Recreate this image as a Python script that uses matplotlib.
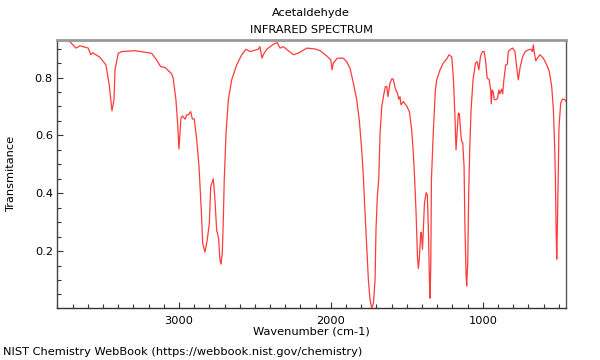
import matplotlib
matplotlib.use("Agg")
import matplotlib.pyplot as plt
from matplotlib.ticker import MultipleLocator

wavenumber = [3803, 3729, 3678, 3652, 3597, 3581, 3568, 3520, 3481, 3459, 3441, 3428, 3421, 3400,
              3377, 3290, 3180, 3147, 3121, 3092, 3048, 3038, 3020, 3009, 3000, 2993, 2987, 2976,
              2960, 2949, 2938, 2923, 2912, 2899, 2883, 2868, 2851, 2844, 2829, 2814, 2800, 2791,
              2774, 2763, 2752, 2739, 2730, 2723, 2715, 2708, 2702, 2690, 2675, 2653, 2620, 2587,
              2559, 2532, 2478, 2467, 2453, 2445, 2422, 2379, 2353, 2335, 2313, 2247, 2208, 2159,
              2104, 2071, 2027, 2000, 1992, 1984, 1958, 1918, 1896, 1874, 1852, 1830, 1813, 1797,
              1786, 1775, 1764, 1753, 1742, 1731, 1720, 1709, 1703, 1694, 1685, 1676, 1665, 1650,
              1641, 1632, 1624, 1611, 1597, 1589, 1576, 1562, 1553, 1545, 1538, 1523, 1501, 1483,
              1468, 1457, 1448, 1439, 1430, 1424, 1417, 1408, 1404, 1397, 1391, 1384, 1373, 1365,
              1358, 1351, 1347, 1342, 1338, 1326, 1312, 1303, 1281, 1260, 1238, 1222, 1204, 1194,
              1183, 1176, 1167, 1161, 1154, 1145, 1139, 1132, 1123, 1117, 1110, 1106, 1099, 1093,
              1086, 1077, 1064, 1048, 1037, 1026, 1015, 1002, 991, 982, 971, 958, 948, 944, 938,
              931, 925, 914, 903, 894, 887, 876, 869, 861, 849, 838, 832, 817, 803, 788, 777, 766,
              755, 737, 720, 700, 682, 673, 667, 660, 651, 641, 623, 601, 579, 562, 546, 535, 526,
              522, 517, 513, 509, 504, 498, 487, 476, 463, 450]
transmittance = [0.926, 0.930, 0.902, 0.910, 0.902, 0.879, 0.886, 0.870, 0.844, 0.775, 0.685, 0.723,
                 0.827, 0.884, 0.890, 0.893, 0.884, 0.861, 0.838, 0.835, 0.813, 0.798, 0.723, 0.642,
                 0.553, 0.609, 0.660, 0.667, 0.656, 0.671, 0.671, 0.682, 0.657, 0.657, 0.584, 0.492,
                 0.319, 0.227, 0.196, 0.238, 0.296, 0.423, 0.450, 0.377, 0.273, 0.244, 0.169, 0.155,
                 0.192, 0.308, 0.446, 0.608, 0.723, 0.792, 0.844, 0.879, 0.898, 0.890, 0.898, 0.907,
                 0.867, 0.879, 0.898, 0.915, 0.921, 0.902, 0.907, 0.879, 0.886, 0.902, 0.899, 0.893,
                 0.875, 0.861, 0.827, 0.850, 0.867, 0.867, 0.855, 0.833, 0.781, 0.723, 0.654, 0.550,
                 0.457, 0.331, 0.215, 0.100, 0.031, 0.002, 0.019, 0.100, 0.273, 0.388, 0.446, 0.608,
                 0.700, 0.746, 0.769, 0.769, 0.734, 0.781, 0.797, 0.793, 0.763, 0.746, 0.725, 0.734,
                 0.706, 0.717, 0.702, 0.682, 0.619, 0.538, 0.446, 0.331, 0.181, 0.140, 0.181, 0.262,
                 0.265, 0.206, 0.273, 0.365, 0.402, 0.394, 0.273, 0.100, 0.037, 0.158, 0.446, 0.608,
                 0.757, 0.792, 0.827, 0.850, 0.864, 0.879, 0.871, 0.803, 0.665, 0.550, 0.630, 0.677,
                 0.675, 0.608, 0.579, 0.576, 0.492, 0.273, 0.123, 0.079, 0.158, 0.388, 0.550, 0.688,
                 0.792, 0.850, 0.855, 0.827, 0.873, 0.890, 0.890, 0.861, 0.798, 0.794, 0.757, 0.709,
                 0.757, 0.750, 0.725, 0.723, 0.728, 0.757, 0.744, 0.760, 0.744, 0.792, 0.844, 0.846,
                 0.890, 0.898, 0.902, 0.890, 0.838, 0.792, 0.833, 0.873, 0.890, 0.896, 0.898, 0.890,
                 0.913, 0.884, 0.858, 0.867, 0.879, 0.867, 0.844, 0.821, 0.769, 0.688, 0.550, 0.457,
                 0.273, 0.172, 0.273, 0.446, 0.630, 0.711, 0.725, 0.725, 0.717]

x_ticks = [3000, 2000, 1000]
x_tick_labels = ["3000", "2000", "1000"]
y_ticks = [0.2, 0.4, 0.6, 0.8]
y_tick_labels = ["0.2", "0.4", "0.6", "0.8"]

plt.rcParams['font.family'] = ['DejaVu Sans']
fig = plt.figure(figsize=(6, 3.6), dpi=100)
ax = fig.add_axes([57/600, 1 - 308/360, (566 - 57)/600, (308 - 40)/360])

ax.plot(wavenumber, transmittance, color='#ff3b3b', lw=0.9)
ax.set_xlim(3803, 452)
ax.set_ylim(0.003, 0.930)

ax.set_xticks(x_ticks)
ax.set_xticklabels(x_tick_labels)
ax.set_yticks(y_ticks)
ax.set_yticklabels(y_tick_labels)
ax.xaxis.set_minor_locator(MultipleLocator(100))
ax.yaxis.set_minor_locator(MultipleLocator(0.05))
ax.tick_params(which='both', direction='in', labelsize=8.2, colors='#333333')
ax.tick_params(axis='x', which='both', pad=5.5)
ax.tick_params(axis='y', which='both', pad=3)
ax.tick_params(which='major', length=4, width=0.8)
ax.tick_params(which='minor', length=3, width=0.8)
ax.tick_params(axis='both', labelcolor='black')

ax.spines['left'].set_color('#444444')
ax.spines['bottom'].set_color('#333333')
ax.spines['right'].set_color('#555555')
ax.spines['top'].set_color('#999999')
ax.spines['top'].set_linewidth(2.0)
for s in ['left', 'bottom', 'right']:
    ax.spines[s].set_linewidth(1.0)

ax.set_xlabel("Wavenumber (cm-1)", fontsize=8.2, labelpad=0.5)
ax.set_ylabel("Transmitance", fontsize=8.2)
ax.yaxis.set_label_coords((16 - 57) / 509, 0.5)

fig.text(311/600, 1 - 13/360, "Acetaldehyde", ha='center', va='center', fontsize=8.2)
fig.text(311/600, 1 - 30/360, "INFRARED SPECTRUM", ha='center', va='center', fontsize=8.2)
fig.text(3/600, 1 - 352/360, "NIST Chemistry WebBook (https://webbook.nist.gov/chemistry)",
         ha='left', va='center', fontsize=8.2)

fig.savefig("out.png", dpi=100)
